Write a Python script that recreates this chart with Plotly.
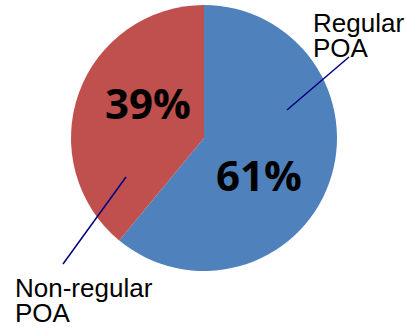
import plotly.graph_objects as go

labels = ["Regular POA", "Non-regular POA"]
values = [61, 39]
pct_text = ["61%", "39%"]
colors = ["#4F81BD", "#C0504D"]

W, H = 407, 327
cx, cy, r = 204, 138, 133

fig = go.Figure(go.Pie(
    labels=labels, values=values, sort=False, direction="clockwise",
    rotation=0, marker=dict(colors=colors, line=dict(width=0)),
    textinfo="none", hoverinfo="label+percent", showlegend=False,
    domain=dict(x=[(cx - r) / W, (cx + r) / W], y=[1 - (cy + r) / H, 1 - (cy - r) / H]),
))

def px(x, y):
    return x / W, 1 - y / H

ann = []
for (x, y), t in zip([(259, 174), (148, 102)], pct_text):
    ax, ay = px(x, y)
    ann.append(dict(x=ax, y=ay, xref="paper", yref="paper", xanchor="center", yanchor="middle",
                    text=f"<b>{t}</b>", showarrow=False,
                    font=dict(family="Open Sans, DejaVu Sans", size=42, color="black")))

label_lines = [("Regular", 311, 23), ("POA", 311, 48), ("Non-regular", 13, 288), ("POA", 13, 313)]
for t, x, y in label_lines:
    ax, ay = px(x, y)
    ann.append(dict(x=ax, y=ay, xref="paper", yref="paper", xanchor="left", yanchor="middle",
                    text=t, showarrow=False,
                    font=dict(family="Liberation Sans, Arial", size=26, color="black")))

shapes = []
for (x0, y0, x1, y1) in [(287, 110, 349, 57), (126, 177, 63, 264)]:
    a0, b0 = px(x0, y0)
    a1, b1 = px(x1, y1)
    shapes.append(dict(type="line", xref="paper", yref="paper", x0=a0, y0=b0, x1=a1, y1=b1,
                       line=dict(color="#000080", width=1.5)))

fig.update_layout(width=W, height=H, margin=dict(l=0, r=0, t=0, b=0),
                  paper_bgcolor="white", plot_bgcolor="white",
                  annotations=ann, shapes=shapes)
fig.write_html("out.html")
